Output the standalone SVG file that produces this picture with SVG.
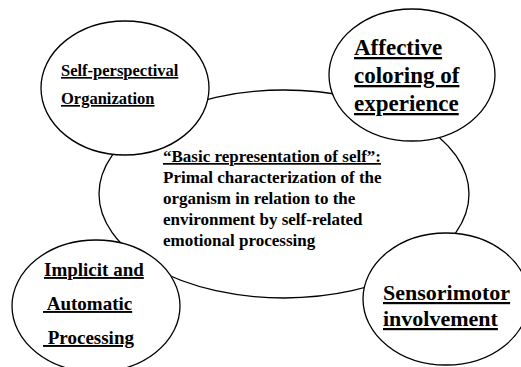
<svg xmlns="http://www.w3.org/2000/svg" width="521" height="367" viewBox="0 0 521 367">
<defs>
<style>
.sh{fill:#fff;stroke:#000;stroke-width:1.3}
</style>
</defs>
<rect width="521" height="367" fill="#fff"/>
<g id="connectors"></g>
<g id="center">
<ellipse class="sh" cx="284" cy="194" rx="185" ry="104"/>
<text x="163" y="162" font-family="Liberation Serif" font-weight="bold" font-size="17" text-decoration="underline">“Basic representation of self”:</text>
<text x="163" y="183" font-family="Liberation Serif" font-weight="bold" font-size="17">Primal characterization of the</text>
<text x="163" y="204" font-family="Liberation Serif" font-weight="bold" font-size="17">organism in relation to the</text>
<text x="163" y="225" font-family="Liberation Serif" font-weight="bold" font-size="17">environment by self-related</text>
<text x="163" y="246" font-family="Liberation Serif" font-weight="bold" font-size="17">emotional processing</text>
</g>
<g id="self-perspectival">
<ellipse class="sh" cx="125" cy="88" rx="84" ry="67"/>
<text x="61" y="76" font-family="Liberation Serif" font-weight="bold" font-size="16.5" text-decoration="underline">Self-perspectival</text>
<text x="61" y="104" font-family="Liberation Serif" font-weight="bold" font-size="16.5" text-decoration="underline">Organization</text>
</g>
<g id="affective">
<ellipse class="sh" cx="412" cy="75" rx="83" ry="66"/>
<text x="354" y="55" font-family="Liberation Serif" font-weight="bold" font-size="23" text-decoration="underline">Affective</text>
<text x="354" y="83" font-family="Liberation Serif" font-weight="bold" font-size="23" text-decoration="underline">coloring of</text>
<text x="354" y="111" font-family="Liberation Serif" font-weight="bold" font-size="23" text-decoration="underline">experience</text>
</g>
<g id="implicit">
<ellipse class="sh" cx="96" cy="306" rx="84" ry="66"/>
<text x="44" y="276" font-family="Liberation Serif" font-weight="bold" font-size="19" text-decoration="underline">Implicit and</text>
<text x="43" y="310" font-family="Liberation Serif" font-weight="bold" font-size="19" text-decoration="underline" xml:space="preserve"> Automatic</text>
<text x="43" y="344" font-family="Liberation Serif" font-weight="bold" font-size="19" text-decoration="underline" xml:space="preserve"> Processing</text>
</g>
<g id="sensorimotor">
<ellipse class="sh" cx="446" cy="299" rx="83" ry="66"/>
<text x="383" y="300" font-family="Liberation Serif" font-weight="bold" font-size="22" text-decoration="underline">Sensorimotor</text>
<text x="383" y="326" font-family="Liberation Serif" font-weight="bold" font-size="22" text-decoration="underline">involvement</text>
</g>
</svg>
